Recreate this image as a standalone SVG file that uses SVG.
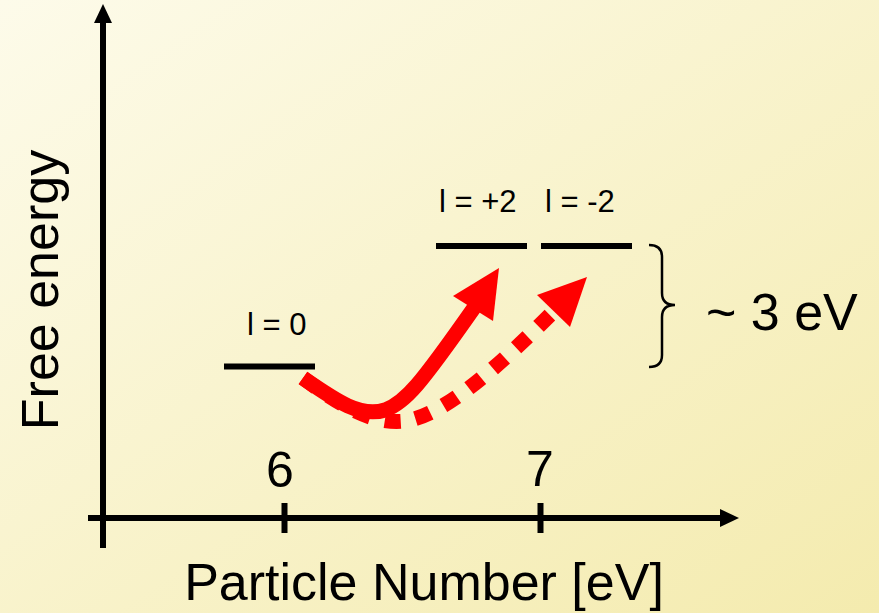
<svg xmlns="http://www.w3.org/2000/svg" width="879" height="613" viewBox="0 0 879 613">
  <defs>
    <linearGradient id="bg" x1="0" y1="0" x2="1" y2="1">
      <stop offset="0" stop-color="#FDFBEA"/>
      <stop offset="1" stop-color="#F4EBAE"/>
    </linearGradient>
    <style>
      .big { font-family: "Liberation Sans", Arial, sans-serif; font-size: 52px; fill: #000; }
      .num { font-family: "Liberation Sans", Arial, sans-serif; font-size: 50px; fill: #000; }
      .lbl { font-family: "Liberation Sans", Arial, sans-serif; font-size: 31px; fill: #000; }
      .axis { stroke: #000; stroke-width: 6; fill: none; }
      .level { stroke: #000; stroke-width: 6; fill: none; }
      .red { stroke: #FF0000; stroke-width: 15; fill: none; }
    </style>
  </defs>
  <rect x="0" y="0" width="879" height="613" fill="url(#bg)"/>

  <g id="axes">
    <line class="axis" x1="103" y1="548" x2="103" y2="20"/>
    <polygon points="103,4 94,23 112,23" fill="#000"/>
    <line class="axis" x1="88" y1="518" x2="722" y2="518"/>
    <polygon points="739,518 720,509 720,527" fill="#000"/>
    <line class="axis" x1="284.5" y1="503" x2="284.5" y2="533" stroke-width="7"/>
    <line class="axis" x1="540.5" y1="503" x2="540.5" y2="533" stroke-width="7"/>
    <text class="num" x="280" y="487" text-anchor="middle">6</text>
    <text class="num" x="540" y="486" text-anchor="middle">7</text>
    <text class="big" x="424" y="600" text-anchor="middle">Particle Number [eV]</text>
    <text class="big" x="58" y="290" text-anchor="middle" transform="rotate(-90 58 290)">Free energy</text>
  </g>

  <g id="level-l0">
    <line class="level" x1="224" y1="366.5" x2="315" y2="366.5"/>
    <text class="lbl" x="247" y="335">l = 0</text>
  </g>
  <g id="level-lp2">
    <line class="level" x1="436" y1="246" x2="527" y2="246"/>
    <text class="lbl" x="439" y="211.5">l = +2</text>
  </g>
  <g id="level-lm2">
    <line class="level" x1="541" y1="246" x2="632" y2="246"/>
    <text class="lbl" x="545" y="211.5">l = -2</text>
  </g>

  <g id="gap">
    <path d="M 649 245 Q 662 245 662 257 L 662 293 Q 662 305 675 305 Q 662 305 662 317 L 662 355 Q 662 367 649 367" fill="none" stroke="#000" stroke-width="2.5"/>
    <text class="big" x="706" y="330">~ 3 eV</text>
  </g>

  <g id="connectors">
    <path class="red" stroke-dasharray="16 15" d="M 303 378 C 340 405, 372 425, 405 421 C 445 415, 500 365, 555 310"/>
    <polygon points="587,277 537,295 570,327" fill="#FF0000"/>
    <path class="red" d="M 303 378 C 335 400, 360 418, 385 410 C 405 403, 420 385, 476 305"/>
    <polygon points="499,268 453,296 493,321" fill="#FF0000"/>
  </g>
</svg>
